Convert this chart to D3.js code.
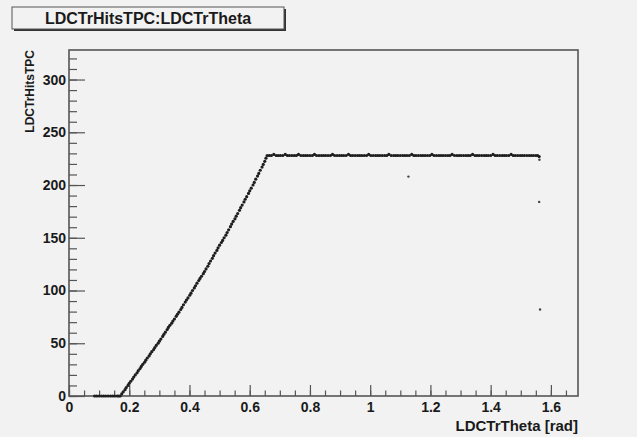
<!DOCTYPE html>
<html>
<head>
<meta charset="utf-8">
<script src="https://cdn.jsdelivr.net/npm/d3@7"></script>
<style>
  html, body { margin: 0; padding: 0; background: #f2f2f2; }
  svg { display: block; }
  text { font-family: "Liberation Sans", Arial, Helvetica, sans-serif; font-weight: bold; fill: #1a1a1a; }
</style>
</head>
<body>
<svg id="chart" width="637" height="437"></svg>
<script>
// Tracks below acceptance: theta with zero TPC hits
const zeroTheta = [0.085, 0.092, 0.1, 0.108, 0.115, 0.122, 0.13, 0.138, 0.145, 0.152, 0.16, 0.165];
const zeroHits  = [0, 0, 0, 0, 0, 0, 0, 0, 0, 0, 0, 0];

// Rising edge: hits grow with polar angle until the track reaches the outer radius
const riseTheta = [
  0.170, 0.175, 0.180, 0.186, 0.190, 0.196, 0.200, 0.205, 0.211, 0.215, 0.220, 0.226, 0.230, 0.236, 0.240, 0.245,
  0.251, 0.255, 0.260, 0.266, 0.270, 0.275, 0.281, 0.285, 0.290, 0.296, 0.300, 0.305, 0.311, 0.315, 0.320, 0.326,
  0.330, 0.335, 0.341, 0.345, 0.350, 0.356, 0.360, 0.365, 0.371, 0.375, 0.380, 0.386, 0.390, 0.395, 0.401, 0.405,
  0.410, 0.416, 0.420, 0.425, 0.431, 0.435, 0.440, 0.446, 0.450, 0.455, 0.461, 0.465, 0.470, 0.476, 0.480, 0.485,
  0.491, 0.495, 0.500, 0.506, 0.510, 0.515, 0.521, 0.525, 0.530, 0.536, 0.540, 0.545, 0.551, 0.555, 0.560, 0.566,
  0.570, 0.575, 0.581, 0.585, 0.590, 0.596, 0.600, 0.605, 0.611, 0.615, 0.620, 0.626, 0.630, 0.635, 0.641, 0.645,
  0.650, 0.654
];
const riseHits = [
  0, 2, 4, 6, 8, 10, 12, 14, 16, 18, 20, 22, 24, 26, 28, 30,
  32, 34, 36, 38, 40, 42, 44, 46, 48, 50, 52, 54, 56.5, 58.5, 60.5, 63,
  65, 67, 69, 71, 73, 75.5, 77.5, 79.5, 82, 84, 86.5, 89, 91, 93, 95.5, 97.5,
  100, 102.5, 104.5, 107, 109.5, 111.5, 113.5, 116, 118, 120.5, 123, 125.5, 128, 130.5, 133, 135.5,
  138, 140.5, 143, 145.5, 147.5, 150, 152.5, 155, 157.5, 160.5, 163, 165.5, 168, 170.5, 173, 176,
  178.5, 181, 184, 186.5, 189, 192, 194.5, 197, 200, 202.5, 205.5, 208.5, 211, 214, 217, 219.5,
  222.5, 225.5
];

// Plateau: tracks crossing all pad rows
const plateauTheta = [
  0.658, 0.665, 0.672, 0.68, 0.688, 0.695, 0.702, 0.71, 0.718, 0.725, 0.732, 0.74, 0.748, 0.755, 0.762, 0.77,
  0.778, 0.785, 0.792, 0.8, 0.808, 0.815, 0.822, 0.83, 0.838, 0.845, 0.852, 0.86, 0.868, 0.875, 0.882, 0.89,
  0.898, 0.905, 0.912, 0.92, 0.928, 0.935, 0.942, 0.95, 0.958, 0.965, 0.972, 0.98, 0.988, 0.995, 1.002, 1.01,
  1.018, 1.025, 1.032, 1.04, 1.048, 1.055, 1.062, 1.07, 1.078, 1.085, 1.092, 1.1, 1.108, 1.115, 1.122, 1.13,
  1.138, 1.145, 1.152, 1.16, 1.168, 1.175, 1.182, 1.19, 1.198, 1.205, 1.212, 1.22, 1.228, 1.235, 1.242, 1.25,
  1.258, 1.265, 1.272, 1.28, 1.288, 1.295, 1.302, 1.31, 1.318, 1.325, 1.332, 1.34, 1.348, 1.355, 1.362, 1.37,
  1.378, 1.385, 1.392, 1.4, 1.408, 1.415, 1.422, 1.43, 1.438, 1.445, 1.452, 1.46, 1.468, 1.475, 1.482, 1.49,
  1.498, 1.505, 1.512, 1.52, 1.528, 1.535, 1.542, 1.55, 1.556, 1.561
];
const plateauHits = [
  228, 228, 228, 229, 228, 228, 228, 228, 229, 228, 228, 228, 228, 228, 229, 228,
  228, 228, 228, 228, 228, 229, 228, 228, 228, 228, 228, 228, 228, 229, 228, 228,
  228, 228, 228, 228, 229, 228, 228, 228, 228, 228, 228, 228, 228, 229, 228, 228,
  228, 228, 228, 228, 228, 228, 229, 228, 228, 228, 228, 228, 228, 228, 228, 228,
  229, 228, 228, 228, 228, 228, 228, 228, 228, 229, 228, 228, 228, 228, 228, 228,
  228, 228, 229, 228, 228, 228, 228, 228, 228, 228, 228, 229, 228, 228, 228, 228,
  228, 228, 228, 228, 229, 228, 228, 228, 228, 228, 228, 228, 229, 228, 228, 228,
  228, 228, 228, 228, 228, 228, 228, 228, 228, 227
];

// Isolated tracks off the main band
const strayTheta = [1.127, 1.562, 1.561, 1.564];
const strayHits  = [208, 224, 184, 82];

const xTickValues = [0, 0.2, 0.4, 0.6, 0.8, 1, 1.2, 1.4, 1.6];
const yTickValues = [0, 50, 100, 150, 200, 250, 300];

const titleText = "LDCTrHitsTPC:LDCTrTheta";
const xTitle = "LDCTrTheta [rad]";
const yTitle = "LDCTrHitsTPC";

const svg = d3.select("#chart");
const W = 637, H = 437;
const frame = { left: 69, right: 578, top: 50, bottom: 396 };

svg.append("rect").attr("width", W).attr("height", H).attr("fill", "#f2f2f2");

const x = d3.scaleLinear().domain([0, 1.69]).range([frame.left, frame.right]);
const y = d3.scaleLinear().domain([0, 328]).range([frame.bottom, frame.top]);

// Frame
svg.append("rect")
  .attr("x", frame.left).attr("y", frame.top)
  .attr("width", frame.right - frame.left).attr("height", frame.bottom - frame.top)
  .attr("fill", "none").attr("stroke", "#555").attr("stroke-width", 1.6);

// Inward ticks (major + minor), drawn by d3 axes with negative tick sizes
const xMinor = d3.range(0, 1.69, 0.05);
const yMinor = d3.range(0, 328, 10);
const tickColor = "#555";

const xAxisMinor = d3.axisBottom(x).tickValues(xMinor).tickSize(-5.5).tickFormat("");
const xAxisMajor = d3.axisBottom(x).tickValues(xTickValues).tickSize(-11)
  .tickFormat(d => d3.format("~g")(d)).tickPadding(6);
const yAxisMinor = d3.axisLeft(y).tickValues(yMinor).tickSize(-8).tickFormat("");
const yAxisMajor = d3.axisLeft(y).tickValues(yTickValues).tickSize(-16)
  .tickFormat(d => d).tickPadding(3);

function styleAxis(g) {
  g.select(".domain").remove();
  g.selectAll(".tick line").attr("stroke", tickColor).attr("stroke-width", 1.2);
  g.selectAll(".tick text").style("font-size", "14px").attr("fill", "#1a1a1a");
}

svg.append("g").attr("transform", `translate(0,${frame.bottom})`).call(xAxisMinor).call(styleAxis);
svg.append("g").attr("transform", `translate(0,${frame.bottom})`).call(xAxisMajor).call(styleAxis);
svg.append("g").attr("transform", `translate(0,${frame.left})`.replace(`0,${frame.left}`, `${frame.left},0`)).call(yAxisMinor).call(styleAxis);
svg.append("g").attr("transform", `translate(${frame.left},0)`).call(yAxisMajor).call(styleAxis);

// Markers
const pts = [];
zeroTheta.forEach((t, i) => pts.push([t, zeroHits[i]]));
riseTheta.forEach((t, i) => pts.push([t, riseHits[i]]));
plateauTheta.forEach((t, i) => pts.push([t, plateauHits[i]]));
const stray = strayTheta.map((t, i) => [t, strayHits[i]]);

svg.append("g").selectAll("circle.band").data(pts).join("circle")
  .attr("class", "band")
  .attr("cx", d => x(d[0])).attr("cy", d => y(d[1]))
  .attr("r", 1.6).attr("fill", "#1e1e1e");

svg.append("g").selectAll("circle.stray").data(stray).join("circle")
  .attr("class", "stray")
  .attr("cx", d => x(d[0])).attr("cy", d => y(d[1]))
  .attr("r", 1.2).attr("fill", "#444");

// Axis titles
svg.append("text").attr("x", frame.right).attr("y", 431)
  .attr("text-anchor", "end").style("font-size", "15px").text(xTitle);
svg.append("text")
  .attr("transform", `translate(34,${frame.top}) rotate(-90)`)
  .attr("text-anchor", "end").style("font-size", "12px").text(yTitle);

// Title box with drop shadow
const tb = { x: 12, y: 7, w: 272, h: 22 };
svg.append("rect").attr("x", tb.x + 2).attr("y", tb.y + 2).attr("width", tb.w).attr("height", tb.h).attr("fill", "#333");
svg.append("rect").attr("x", tb.x).attr("y", tb.y).attr("width", tb.w).attr("height", tb.h)
  .attr("fill", "#f2f2f2").attr("stroke", "#555").attr("stroke-width", 1);
svg.append("text").attr("x", tb.x + tb.w / 2).attr("y", tb.y + 16.5)
  .attr("text-anchor", "middle").style("font-size", "16px").text(titleText);
</script>
</body>
</html>
